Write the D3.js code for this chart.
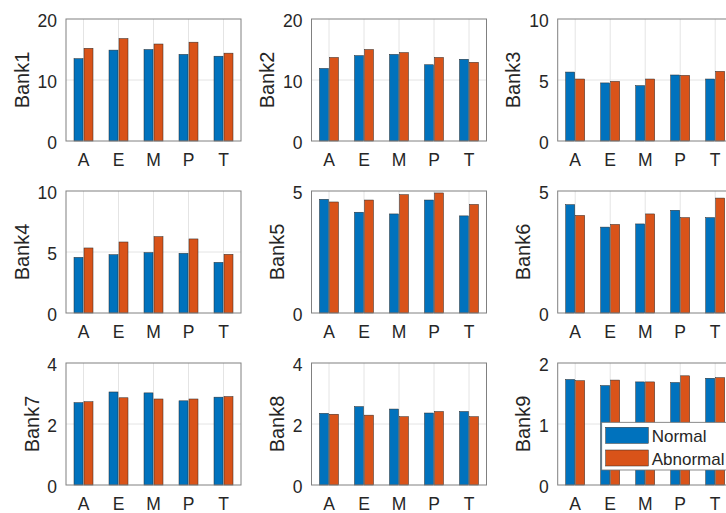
<!DOCTYPE html>
<html>
<head>
<meta charset="utf-8">
<script src="https://cdn.jsdelivr.net/npm/d3@7"></script>
<style>
  html, body { margin: 0; padding: 0; background: #fff; overflow: hidden; }
  svg { display: block; font-family: "Liberation Sans", Arial, sans-serif; }
</style>
</head>
<body>
<svg id="chart" width="726" height="513"></svg>
<script>
// ---- data ----
const categories = ["A", "E", "M", "P", "T"];
const seriesNames = ["Normal", "Abnormal"];
const bankNames = ["Bank1", "Bank2", "Bank3", "Bank4", "Bank5", "Bank6", "Bank7", "Bank8", "Bank9"];

const normal = [
  [13.5, 14.9, 15.0, 14.2, 13.9],
  [11.9, 14.0, 14.2, 12.5, 13.4],
  [5.65, 4.76, 4.54, 5.41, 5.08],
  [4.56, 4.78, 4.95, 4.89, 4.15],
  [4.66, 4.13, 4.06, 4.63, 3.98],
  [4.44, 3.52, 3.65, 4.21, 3.91],
  [2.70, 3.05, 3.02, 2.76, 2.88],
  [2.35, 2.57, 2.49, 2.36, 2.41],
  [1.73, 1.63, 1.69, 1.68, 1.75]
];
const abnormal = [
  [15.2, 16.8, 15.9, 16.2, 14.4],
  [13.7, 15.0, 14.5, 13.7, 12.9],
  [5.08, 4.89, 5.08, 5.38, 5.71],
  [5.33, 5.82, 6.26, 6.07, 4.81],
  [4.55, 4.63, 4.85, 4.92, 4.45],
  [4.00, 3.63, 4.06, 3.91, 4.71],
  [2.73, 2.86, 2.82, 2.82, 2.90],
  [2.32, 2.29, 2.24, 2.41, 2.24],
  [1.71, 1.72, 1.69, 1.79, 1.76]
];
const yMax = [20, 20, 10, 10, 5, 5, 4, 4, 2];
const yTicks = [[0, 10, 20], [0, 10, 20], [0, 5, 10], [0, 5, 10], [0, 5], [0, 5], [0, 2, 4], [0, 2, 4], [0, 1, 2]];

// ---- layout / style ----
const colors = { Normal: "#0072BD", Abnormal: "#D95319" };
const textColor = "#262626";
const panelW = 175, panelH = 122;
const colLeft = [66, 311.5, 557.7];
const rowTop = [19, 191, 363];
const tickFont = 17.5, labelFont = 20, legendFont = 17;

const svg = d3.select("#chart");

bankNames.forEach((name, i) => {
  const col = i % 3, row = Math.floor(i / 3);
  const g = svg.append("g").attr("transform", `translate(${colLeft[col]},${rowTop[row]})`);

  const x = d3.scaleBand().domain(categories).range([0, panelW]);
  const half = x.bandwidth() / 2;
  const xs = d3.scaleBand().domain(seriesNames)
    .range([half - 10, half + 10]).paddingInner(0.1).paddingOuter(0.05);
  const y = d3.scaleLinear().domain([0, yMax[i]]).range([panelH, 0]);

  // grid
  g.append("g").selectAll("line.vg").data(categories).join("line")
    .attr("x1", d => x(d) + half).attr("x2", d => x(d) + half)
    .attr("y1", 0).attr("y2", panelH)
    .attr("stroke", "#e4e4e4").attr("stroke-width", 1);
  g.append("g").selectAll("line.hg").data(yTicks[i].filter(t => t > 0 && t < yMax[i])).join("line")
    .attr("x1", 0).attr("x2", panelW)
    .attr("y1", d => y(d)).attr("y2", d => y(d))
    .attr("stroke", "#e4e4e4").attr("stroke-width", 1);

  // bars
  const rows = categories.map((c, k) => ({ cat: c, Normal: normal[i][k], Abnormal: abnormal[i][k] }));
  g.append("g").selectAll("g").data(rows).join("g")
    .attr("transform", d => `translate(${x(d.cat)},0)`)
    .selectAll("rect").data(d => seriesNames.map(s => ({ s, v: d[s] }))).join("rect")
    .attr("x", d => xs(d.s)).attr("width", xs.bandwidth())
    .attr("y", d => y(d.v)).attr("height", d => panelH - y(d.v))
    .attr("fill", d => colors[d.s])
    .attr("stroke", "#2a2a2a").attr("stroke-width", 0.5);

  // box
  g.append("rect").attr("x", 0).attr("y", 0).attr("width", panelW).attr("height", panelH)
    .attr("fill", "none").attr("stroke", "#808080").attr("stroke-width", 1);

  // axes
  const ya = g.append("g")
    .call(d3.axisLeft(y).tickValues(yTicks[i]).tickSize(0).tickPadding(9).tickFormat(d3.format("d")));
  ya.select(".domain").remove();
  ya.selectAll("text").attr("font-size", tickFont).attr("fill", textColor)
    .attr("font-family", "Liberation Sans, Arial, sans-serif").attr("dy", "0.45em");

  const xa = g.append("g").attr("transform", `translate(0,${panelH})`)
    .call(d3.axisBottom(x).tickSize(0).tickPadding(13));
  xa.select(".domain").remove();
  xa.selectAll("text").attr("font-size", tickFont).attr("fill", textColor)
    .attr("font-family", "Liberation Sans, Arial, sans-serif");

  // y label placed just outside the widest tick label
  let maxW = 0;
  ya.selectAll("text").each(function () { maxW = Math.max(maxW, this.getBBox().width); });
  const lx = -9 - maxW - 8.5;
  g.append("text")
    .attr("transform", `translate(${lx},${panelH / 2}) rotate(-90)`)
    .attr("text-anchor", "middle")
    .attr("font-size", labelFont).attr("fill", textColor)
    .text(name);

  // legend sits inside the last panel
  if (i === bankNames.length - 1) {
    const lg = g.append("g").attr("transform", "translate(44,59.3)");
    lg.append("rect").attr("x", 0).attr("y", 0).attr("width", 130).attr("height", 47.7)
      .attr("fill", "#fff").attr("stroke", "#6e6e6e").attr("stroke-width", 0.8);
    seriesNames.forEach((s, k) => {
      lg.append("rect").attr("x", 4).attr("y", 5 + k * 22.7).attr("width", 42.6).attr("height", 16)
        .attr("fill", colors[s]).attr("stroke", "#2a2a2a").attr("stroke-width", 0.5);
      lg.append("text").attr("x", 50).attr("y", 20 + k * 22.7)
        .attr("font-size", legendFont).attr("fill", textColor).text(s);
    });
  }
});
</script>
</body>
</html>
